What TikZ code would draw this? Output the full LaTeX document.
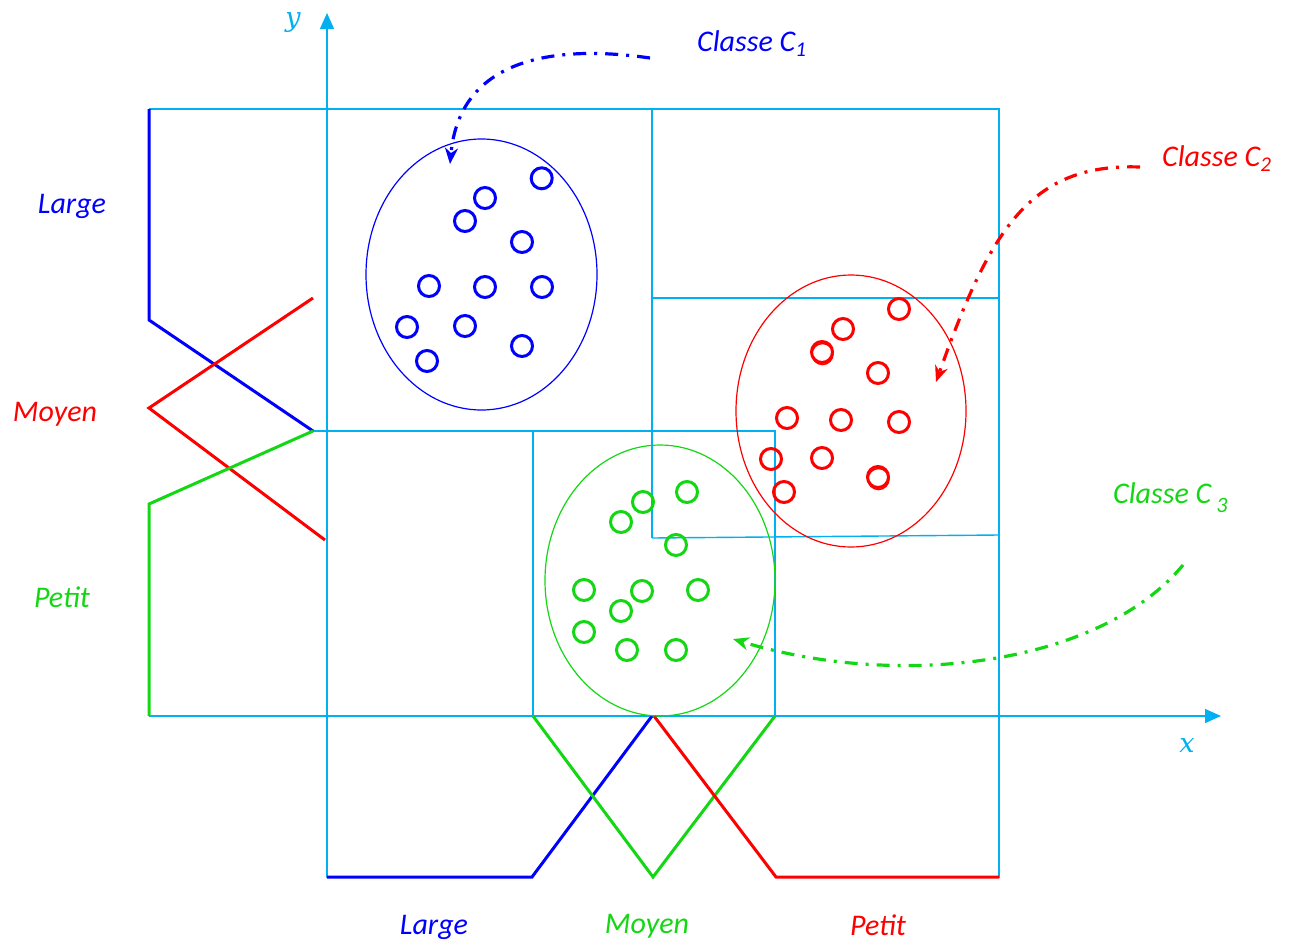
\documentclass[tikz,border=0pt]{standalone}
\usepackage{fontspec}
\setmainfont{Carlito}
\newfontfamily\axfont{DejaVu Serif}
\usetikzlibrary{arrows.meta}
\definecolor{cy}{RGB}{0,176,240}
\definecolor{bl}{RGB}{0,0,255}
\definecolor{rd}{RGB}{255,0,0}
\definecolor{gr}{RGB}{20,215,20}
\begin{document}
\begin{tikzpicture}[x=1pt,y=-1pt,
  grid/.style={cy, line width=1.4pt},
  axis/.style={cy, line width=1.4pt, -{Triangle[length=16pt,width=14pt]}},
  mf/.style={line width=3pt, line join=miter},
  pt/.style={circle, draw, line width=3pt, minimum size=21pt, inner sep=0pt},
  cls/.style={line width=1.2pt},
  lbl/.style={font=\fontsize{30}{30}\selectfont\itshape, inner sep=0pt},
  axl/.style={cy, inner sep=0pt, font=\axfont\fontsize{27}{27}\selectfont\itshape},
  dd/.style={line width=3.2pt, dash pattern=on 13pt off 8pt on 3pt off 8pt, -{Stealth[length=16pt,width=13pt,inset=5pt]}}
]
\useasboundingbox (0,0) rectangle (1289,942);
% grid lines
\draw[grid] (149,109) -- (999,109) -- (999,878);
\draw[grid] (652,109) -- (652,538);
\draw[grid] (652,298) -- (999,298);
\draw[grid] (652,538) -- (999,535);
\draw[grid] (313,431) -- (775,431) -- (775,716);
\draw[grid] (533,431) -- (533,716);
% axes
\coordinate (yb) at (327,878);
\coordinate (yt) at (327,13);
\coordinate (xl) at (149,716);
\coordinate (xr) at (1221,716);
\draw[axis] (yb) -- (yt);
\draw[axis] (xl) -- (xr);
\node[axl] (ylab) at (293,22) {y};
\node[axl] (xlab) at (1187,745) {x};
% vertical membership functions
\draw[mf, bl] (149,109) -- (149,320) -- (313,431);
\draw[mf, rd] (313,298) -- (149,408) -- (325,540);
\draw[mf, gr] (313,431) -- (149,504) -- (149,716);
% horizontal membership functions
\draw[mf, bl] (327,877) -- (532,877) -- (652,716);
\draw[mf, gr] (533,716) -- (653,877) -- (775,716);
\draw[mf, rd] (654,716) -- (776,877) -- (999,877);
% ellipses
\draw[cls, bl] (481.5,274.5) ellipse [x radius=115.5pt, y radius=135.5pt];
\draw[cls, rd] (851,411) ellipse [x radius=115pt, y radius=136pt];
\draw[cls, gr] (660,580.5) ellipse [x radius=115pt, y radius=135.5pt];
% blue points
\foreach \p [count=\i] in {(541.7,178.3),(485,198),(465,221),(522,242),(429,286),(485,287),(542,287),(407,327),(465,326),(522,346),(427,361)}
  \node[pt, bl] (b\i) at \p {};
% red points
\foreach \p [count=\i] in {(899,309),(843,329),(822,352),(878,373),(787,418),(841,420),(899,422),(771,459),(822,458),(878,477),(784,492)}
  \node[pt, rd] (r\i) at \p {};
\node[pt, rd, line width=1.5pt] (r3b) at (822.5,354) {};
\node[pt, rd, line width=1.5pt] (r10b) at (878.5,479) {};
% green points
\foreach \p [count=\i] in {(687,492),(643,502),(621,522),(676,545),(584,590),(642,591),(698,590),(621,611),(584,632),(627,650),(676,650)}
  \node[pt, gr] (g\i) at \p {};
% labels
\node[lbl, bl] (lv1) at (72,206) {Large};
\node[lbl, rd] (lv2) at (55,414) {Moyen};
\node[lbl, gr] (lv3) at (62,597) {Petit};
\node[lbl, bl] (lh1) at (434,927) {Large};
\node[lbl, gr] (lh2) at (647,926) {Moyen};
\node[lbl, rd] (lh3) at (878,925) {Petit};
\node[lbl, bl, anchor=west] (c1) at (697,44) {Classe C\textsubscript{1}};
\node[lbl, rd, anchor=west] (c2) at (1162,159) {Classe C\textsubscript{2}};
\node[lbl, gr, anchor=west] (c3) at (1113,498) {Classe C\,\raisebox{-9pt}{\fontsize{22}{22}\selectfont 3}};
% class arrows
\coordinate (a1s) at (650,58);
\coordinate (a1e) at (450,164);
\coordinate (a2s) at (1140,167);
\coordinate (a2e) at (936,382);
\coordinate (a3s) at (1183,565);
\coordinate (a3e) at (733,639);
\draw[dd, bl] (a1s) .. controls (560,45) and (460,55) .. (a1e);
\draw[dd, rd] (a2s) .. controls (1030,163) and (990,230) .. (a2e);
\draw[dd, gr] (a3s) .. controls (1100,665) and (900,690) .. (a3e);
\end{tikzpicture}
\end{document}
